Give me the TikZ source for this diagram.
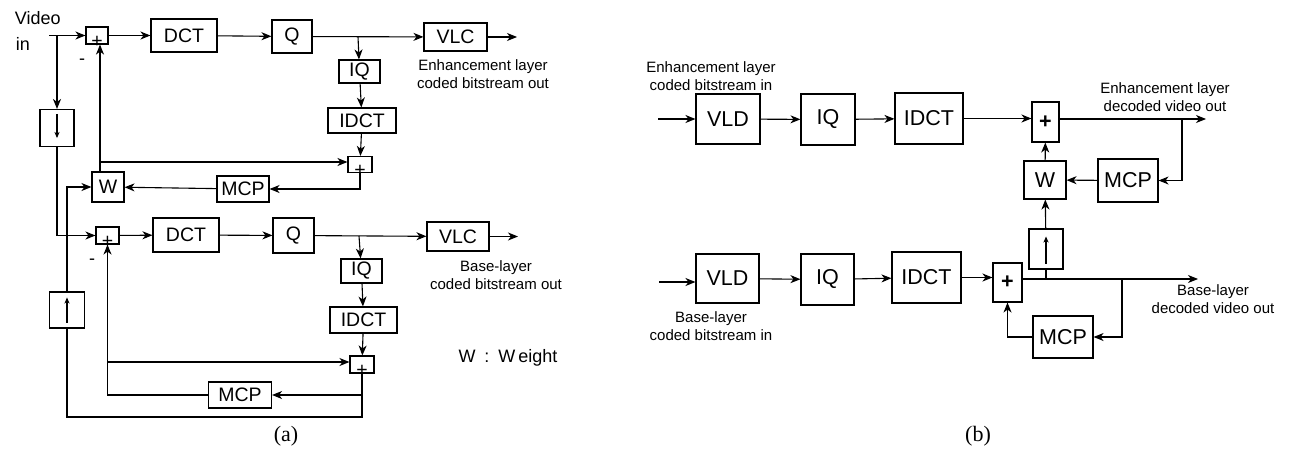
\documentclass[tikz,border=0pt]{standalone}
\usepackage{fontspec}
\setmainfont{Liberation Sans}
\newfontfamily\capserif{Liberation Serif}
\usetikzlibrary{arrows.meta}
\begin{document}
\begin{tikzpicture}[x=1pt,y=-1pt,
  line width=1.1pt,
  arr/.style={-{Stealth[length=10pt,width=8pt,inset=3pt]}},
  sarr/.style={-{Stealth[length=6pt,width=5pt,inset=1.5pt]}},
  bx/.style={draw,inner sep=0pt},
  fa/.style={font=\fontsize{19.5}{22}\selectfont},
  fb/.style={font=\fontsize{21.5}{24}\selectfont},
  lab/.style={align=center,font=\fontsize{15}{18}\selectfont},
  captxt/.style={font=\capserif\fontsize{22}{24}\selectfont},
]
\useasboundingbox (0,0) rectangle (1292,453);

% ---------------- (a) ----------------
\node[anchor=west,font=\fontsize{18}{20}\selectfont] (vt) at (11,18) {Video};
\node[anchor=west,font=\fontsize{18}{20}\selectfont] (vi) at (12,44) {in};

\node[bx,fa,minimum width=22pt,minimum height=17pt] (pa1) at (97,35.5) {\smash{\raisebox{-11.5pt}{+}}};
\node[bx,fa,minimum width=66pt,minimum height=33pt] (dct1) at (184,35.5) {DCT};
\node[bx,fa,minimum width=40pt,minimum height=33pt] (q1) at (292,36.5) {Q};
\node[bx,fa,minimum width=63pt,minimum height=28pt] (vlc1) at (455.5,37) {VLC};
\node[bx,fa,minimum width=41pt,minimum height=23pt] (iq1) at (359.5,71.5) {IQ};
\node[bx,fa,minimum width=68pt,minimum height=25pt] (idct1) at (362,120.5) {IDCT};
\node[bx,fa,minimum width=24pt,minimum height=16pt] (pr1) at (360,164.5) {\smash{\raisebox{-11.5pt}{+}}};
\node[bx,fa,minimum width=32pt,minimum height=30pt] (wa) at (108,187) {W};
\node[bx,fa,minimum width=52pt,minimum height=26pt] (mcp1) at (243,189) {MCP};
\node[bx,minimum width=34pt,minimum height=37pt] (dn) at (57,128) {};

\node[bx,fa,minimum width=23pt,minimum height=17pt] (pa2) at (107.5,235.5) {\smash{\raisebox{-11.5pt}{+}}};
\node[bx,fa,minimum width=66pt,minimum height=34pt] (dct2) at (186,235) {DCT};
\node[bx,fa,minimum width=41pt,minimum height=35pt] (q2) at (293.5,235.5) {Q};
\node[bx,fa,minimum width=62pt,minimum height=29pt] (vlc2) at (458,236.5) {VLC};
\node[bx,fa,minimum width=41pt,minimum height=24pt] (iq2) at (361.5,271) {IQ};
\node[bx,fa,minimum width=67pt,minimum height=26pt] (idct2) at (363.5,320) {IDCT};
\node[bx,fa,minimum width=24pt,minimum height=17pt] (pr2) at (362,364.5) {\smash{\raisebox{-11.5pt}{+}}};
\node[bx,fa,minimum width=63pt,minimum height=26pt] (mcp2) at (240,395) {MCP};
\node[bx,minimum width=35pt,minimum height=36pt] (up) at (67,310) {};

\node[font=\fontsize{18}{20}\selectfont] (m1) at (82,62) {-};
\node[font=\fontsize{18}{20}\selectfont] (m2) at (92,262) {-};

\node[lab] (l1) at (483,74) {Enhancement layer\\coded bitstream out};
\node[lab] (l2) at (496,275.5) {Base-layer\\coded bitstream out};
\node[font=\fontsize{18}{20}\selectfont] (wl) at (508,358) {W\enspace:\enspace W\,eight};
\node[captxt] (ca) at (286,436) {(a)};

\coordinate (vin) at (49,35.5);
\coordinate (jin) at (57,35.5);
\coordinate (ja) at (100,162);
\coordinate (jq1) at (358,36.5);
\coordinate (jq2) at (359,236);
\coordinate (jb) at (107.5,362);
\coordinate (bot) at (362,417);
\coordinate (o1) at (517,37);
\coordinate (o2) at (518,236.5);

\draw[arr] (vin) -- (pa1.west);
\draw[arr] (jin) -- (dn.north);
\draw[sarr] ([yshift=-5pt]dn.north) -- ([yshift=9pt]dn.south);
\draw[arr] (dn.south) |- (pa2.west);
\draw[arr] (pa1) -- (dct1);
\draw[arr] (dct1) -- (q1);
\draw[arr] (q1) -- (vlc1);
\draw[arr] (vlc1) -- (o1);
\draw[arr] (jq1) -- (iq1);
\draw[arr] (iq1) -- (idct1);
\draw[arr] (idct1) -- (pr1);
\draw[arr] (wa.north -| ja) -- (pa1.south -| ja);
\draw[arr] (ja) -- (ja -| pr1.west);
\draw[arr] (pr1.south) |- (mcp1.east);
\draw[arr] (mcp1) -- (wa);
\draw[arr] (up.north) |- (wa.west);
\draw[sarr] ([yshift=6pt]up.south) -- ([yshift=-6pt]up.north);
\draw (pr2.south) -- (bot) -| (up.south);
\draw[arr] (pr2.south) |- (mcp2.east);
\draw[arr] (mcp2.west) -| (pa2.south);
\draw[arr] (jb) -- (jb -| pr2.west);
\draw[arr] (pa2) -- (dct2);
\draw[arr] (dct2) -- (q2);
\draw[arr] (q2) -- (vlc2);
\draw[arr] (vlc2) -- (o2);
\draw[arr] (jq2) -- (iq2);
\draw[arr] (iq2) -- (idct2);
\draw[arr] (idct2) -- (pr2);

% ---------------- (b) ----------------
\node[bx,fb,minimum width=64pt,minimum height=50pt] (vlde) at (728,119) {VLD};
\node[bx,fb,minimum width=54pt,minimum height=51pt] (iqe) at (828,119.5) {IQ};
\node[bx,fb,minimum width=68pt,minimum height=51pt] (idcte) at (929,118.5) {IDCT};
\node[bx,fb,minimum width=27pt,minimum height=40pt] (pe) at (1045.5,122) {\textbf{+}};
\node[bx,fb,minimum width=60pt,minimum height=43pt] (mcpe) at (1128,180.5) {MCP};
\node[bx,fb,minimum width=42pt,minimum height=38pt] (we) at (1045,180) {W};
\node[bx,minimum width=34pt,minimum height=40pt] (upe) at (1046,249) {};
\node[bx,fb,minimum width=29pt,minimum height=39pt] (pb) at (1007.5,282.5) {\textbf{+}};
\node[bx,fb,minimum width=60pt,minimum height=42pt] (mcpb) at (1063,337) {MCP};
\node[bx,fb,minimum width=63pt,minimum height=49pt] (vldb) at (727.5,278.5) {VLD};
\node[bx,fb,minimum width=53pt,minimum height=51pt] (iqb) at (827.5,279.5) {IQ};
\node[bx,fb,minimum width=69pt,minimum height=51pt] (idctb) at (926.5,277.5) {IDCT};

\node[lab] (l3) at (711,76) {Enhancement layer\\coded bitstream in};
\node[lab] (l4) at (1165,97.5) {Enhancement layer\\decoded video out};
\node[lab] (l5) at (1213,299) {Base-layer\\decoded video out};
\node[lab] (l6) at (711,326) {Base-layer\\coded bitstream in};
\node[captxt] (cb) at (978,436) {(b)};

\coordinate (ine) at (658,119);
\coordinate (inb) at (659,282);
\coordinate (oute) at (1206,119);
\coordinate (outb) at (1198,279);
\coordinate (je) at (1182,119);
\coordinate (jb2) at (1122,279);
\coordinate (ju) at (1046,279);

\draw[arr] (ine) -- (vlde.west);
\draw[arr] (vlde) -- (iqe);
\draw[arr] (iqe) -- (idcte);
\draw[arr] (idcte.east) -- (idcte.east -| pe.west);
\draw[arr] (pe.east |- oute) -- (oute);
\draw[arr] (je) |- (mcpe.east);
\draw[arr] (mcpe) -- (we);
\draw[arr] (we) -- (pe);
\draw[arr] (upe) -- (we);
\draw[sarr] ([yshift=6pt]upe.south) -- ([yshift=-8pt]upe.north);
\draw (ju) -- (upe.south);

\draw[arr] (inb) -- (inb -| vldb.west);
\draw[arr] (vldb) -- (iqb);
\draw[arr] (iqb) -- (idctb);
\draw[arr] (idctb.east) -- (idctb.east -| pb.west);
\draw[arr] (pb.east |- outb) -- (outb);
\draw[arr] (jb2) |- (mcpb.east);
\draw[arr] (mcpb.west) -| (pb.south);
\end{tikzpicture}
\end{document}
